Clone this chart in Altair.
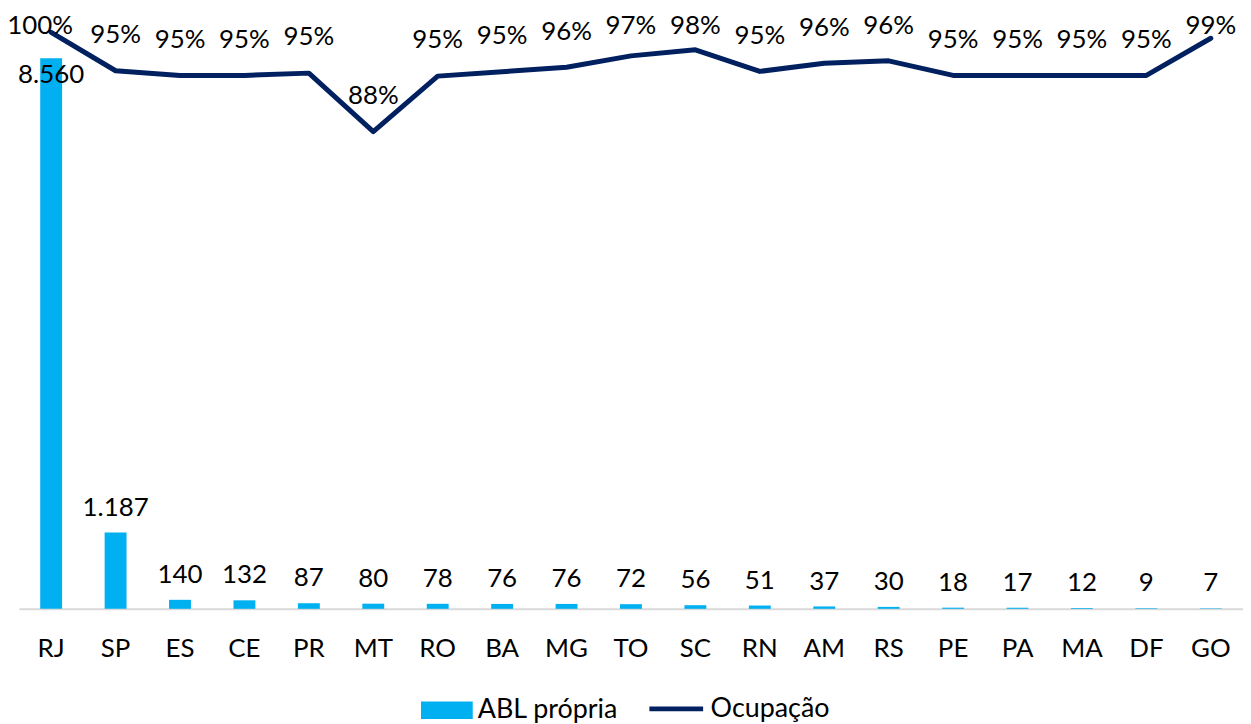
import altair as alt
import pandas as pd

ufs = ["RJ", "SP", "ES", "CE", "PR", "MT", "RO", "BA", "MG", "TO",
       "SC", "RN", "AM", "RS", "PE", "PA", "MA", "DF", "GO"]
abl = [8560, 1187, 140, 132, 87, 80, 78, 76, 76, 72, 56, 51, 37, 30, 18, 17, 12, 9, 7]
ocup = [99.85, 95.2, 94.63, 94.63, 94.91, 87.83, 94.55, 95.08, 95.63, 97.0,
        97.73, 95.12, 96.1, 96.4, 94.63, 94.63, 94.63, 94.63, 99.13]

df = pd.DataFrame({"uf": ufs, "abl": abl, "ocup": ocup})

FONT = "Lato"
FS = 26
LFS = 27
BAR_C = "#00B0F0"
LINE_C = "#002060"

bar_dom = [0, 9130]
line_dom = [30.06, 101.14]

x = alt.X("uf:N", sort=ufs, title=None,
          axis=alt.Axis(labelAngle=0, ticks=False, tickSize=0, labelPadding=48,
                        labelBaseline="alphabetic", labelFont=FONT, labelFontSize=FS,
                        labelColor="#000000", domainColor="#D9D9D9", domainWidth=2,
                        grid=False),
          scale=alt.Scale(paddingInner=0, paddingOuter=0))

base = alt.Chart(df)

yb = alt.Y("abl:Q", scale=alt.Scale(domain=bar_dom, nice=False, zero=True), axis=None)
bars = base.mark_bar(size=22).encode(
    x=x, y=yb,
    fill=alt.Fill("sb:N", scale=alt.Scale(domain=["ABL própria"], range=[BAR_C]),
                  legend=alt.Legend(title=None, orient="none", legendX=404, legendY=666,
                                    symbolType="M-1,-0.34H1V0.34H-1Z", symbolSize=2704,
                                    symbolStrokeWidth=0, labelFont=FONT, labelFontSize=LFS,
                                    labelColor="#000000", labelOffset=5, padding=0)),
).transform_calculate(sb="'ABL própria'")

bar_lab = base.transform_calculate(
    lab="replace(format(datum.abl, ','), ',', '.')"
)
bar_txt = bar_lab.transform_filter("datum.abl < 8000").mark_text(
    font=FONT, fontSize=FS, baseline="alphabetic", dy=-17, color="#000000"
).encode(x=x, y=yb, text="lab:N")
bar_txt_top = bar_lab.transform_filter("datum.abl >= 8000").mark_text(
    font=FONT, fontSize=FS, baseline="alphabetic", dy=25, color="#000000"
).encode(x=x, y=yb, text="lab:N")

yl = alt.Y("ocup:Q", scale=alt.Scale(domain=line_dom, nice=False, zero=False), axis=None)
line = base.mark_line(strokeWidth=5, strokeCap="round", strokeJoin="round").encode(
    x=x, y=yl,
    stroke=alt.Stroke("sl:N", scale=alt.Scale(domain=["Ocupação"], range=[LINE_C]),
                      legend=alt.Legend(title=None, orient="none", legendX=631, legendY=661,
                                        symbolType="stroke", symbolSize=2916,
                                        symbolStrokeWidth=4.7, labelFont=FONT,
                                        labelFontSize=LFS, labelColor="#000000",
                                        labelOffset=5, padding=0)),
).transform_calculate(sl="'Ocupação'")

line_lab = base.transform_calculate(
    lv="min(datum.ocup + 3.35, 99.69)",
    lt="format(datum.ocup / 100, '.0%')",
)
yll = alt.Y("lv:Q", scale=alt.Scale(domain=line_dom, nice=False, zero=False), axis=None)
line_txt = line_lab.transform_filter(f"datum.uf != '{ufs[0]}'").mark_text(
    font=FONT, fontSize=FS, baseline="alphabetic", color="#000000"
).encode(x=x, y=yll, text="lt:N")
line_txt_first = line_lab.transform_filter(f"datum.uf == '{ufs[0]}'").mark_text(
    font=FONT, fontSize=FS, baseline="alphabetic", dx=-11, color="#000000"
).encode(x=x, y=yll, text="lt:N")

chart = alt.layer(
    bars, bar_txt, bar_txt_top, line, line_txt, line_txt_first
).resolve_scale(
    y="independent", fill="independent", stroke="independent"
).properties(
    width=1230, height=590,
    autosize=alt.AutoSizeParams(type="none"),
    padding={"left": 11, "top": 12, "right": 0, "bottom": 114},
    background="white",
).configure_view(stroke=None)

chart.save("out.html", embed_options={"renderer": "svg", "actions": False})
